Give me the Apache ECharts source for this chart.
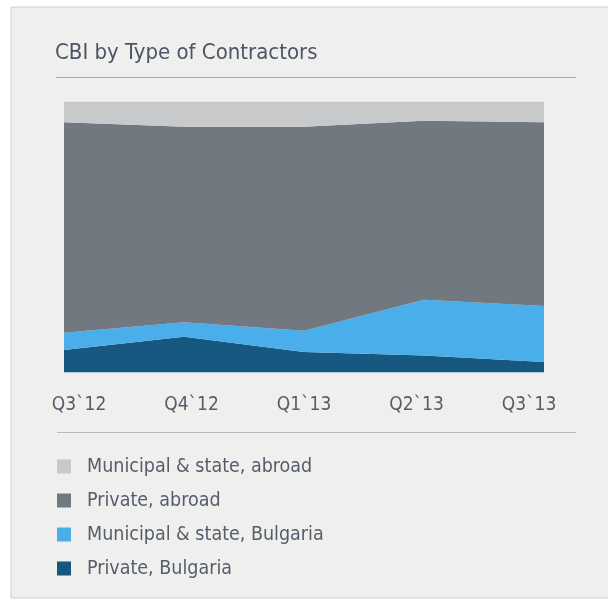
<!DOCTYPE html>
<html>
<head>
<meta charset="utf-8">
<script src="https://cdn.jsdelivr.net/npm/echarts@6/dist/echarts.min.js"></script>
<style>
  html, body { margin: 0; padding: 0; background: #ffffff; }
  #chart { width: 608px; height: 601px; }
</style>
</head>
<body>
<div id="chart"></div>
<script>
// Quarterly shares (%) of construction business by type of contractor
const quarters = ['Q3`12', 'Q4`12', 'Q1`13', 'Q2`13', 'Q3`13'];
const privateBulgaria = [8.3, 13.2, 7.6, 6.3, 3.9];
const municipalBulgaria = [6.4, 5.3, 7.8, 20.5, 20.6];
const privateAbroad = [77.6, 72.2, 75.3, 66.1, 67.8];
const municipalAbroad = [7.7, 9.3, 9.3, 7.1, 7.7];

const seriesNames = [
  'Municipal & state, abroad',
  'Private, abroad',
  'Municipal & state, Bulgaria',
  'Private, Bulgaria'
];

const FONT = "'Liberation Sans Narrow', 'DejaVu Sans Condensed', 'Roboto', sans-serif";
const TEXT = '#555c6a';

const colors = {
  'Private, Bulgaria': '#16587f',
  'Municipal & state, Bulgaria': '#49aeea',
  'Private, abroad': '#72787f',
  'Municipal & state, abroad': '#c8c9ca'
};

function areaSeries(name, data) {
  return {
    name: name,
    type: 'line',
    stack: 'share',
    xAxisIndex: 0,
    yAxisIndex: 0,
    data: data,
    symbol: 'none',
    smooth: false,
    lineStyle: { width: 0 },
    itemStyle: { color: colors[name] },
    areaStyle: { color: colors[name], opacity: 1 },
    emphasis: { disabled: true },
    silent: true
  };
}

const chart = echarts.init(document.getElementById('chart'), null, { renderer: 'canvas' });

chart.setOption({
  animation: false,
  backgroundColor: '#ffffff',
  textStyle: { fontFamily: FONT },
  graphic: [
    {
      type: 'rect',
      z: -10,
      shape: { x: 11, y: 7, width: 600, height: 591 },
      style: { fill: '#efefee', stroke: '#cfcfcf', lineWidth: 1 }
    },
    {
      type: 'line',
      shape: { x1: 56, y1: 77.5, x2: 576, y2: 77.5 },
      style: { stroke: '#ababab', lineWidth: 1.2 }
    },
    {
      type: 'line',
      shape: { x1: 57, y1: 432.5, x2: 576, y2: 432.5 },
      style: { stroke: '#b9b9b9', lineWidth: 1.2 }
    }
  ],
  title: {
    text: 'CBI by Type of Contractors',
    left: 55,
    top: 42,
    padding: 0,
    textStyle: { fontFamily: FONT, fontSize: 22, fontWeight: 'normal', color: '#4d5565' }
  },
  legend: {
    orient: 'vertical',
    left: 57,
    top: 456,
    padding: 0,
    itemWidth: 14,
    itemHeight: 14,
    itemGap: 13,
    icon: 'rect',
    selectedMode: false,
    data: seriesNames,
    textStyle: {
      fontFamily: FONT,
      fontSize: 19.5,
      lineHeight: 21,
      color: TEXT,
      padding: [0, 0, 0, 11]
    }
  },
  grid: [
    { left: 64, right: 64, top: 101.5, bottom: 228.5 },
    { left: 22.75, width: 562.5, top: 388, height: 1 }
  ],
  xAxis: [
    {
      type: 'category',
      gridIndex: 0,
      data: quarters,
      boundaryGap: false,
      axisLine: { show: false },
      axisTick: { show: false },
      axisLabel: { show: false },
      splitLine: { show: false }
    },
    {
      type: 'category',
      gridIndex: 1,
      data: quarters,
      boundaryGap: true,
      axisLine: { show: false },
      axisTick: { show: false },
      splitLine: { show: false },
      axisLabel: {
        margin: 7,
        fontFamily: FONT,
        fontSize: 19,
        color: TEXT
      }
    }
  ],
  yAxis: [
    { type: 'value', gridIndex: 0, min: 0, max: 100, show: false },
    { type: 'value', gridIndex: 1, show: false }
  ],
  series: [
    areaSeries('Private, Bulgaria', privateBulgaria),
    areaSeries('Municipal & state, Bulgaria', municipalBulgaria),
    areaSeries('Private, abroad', privateAbroad),
    areaSeries('Municipal & state, abroad', municipalAbroad)
  ]
});
</script>
</body>
</html>
